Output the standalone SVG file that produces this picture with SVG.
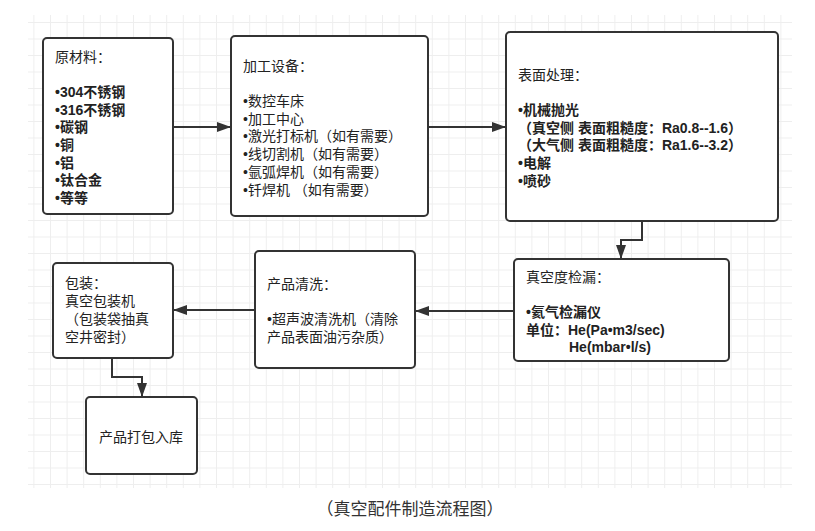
<svg xmlns="http://www.w3.org/2000/svg" width="815" height="531" viewBox="0 0 815 531">
<style>
.box{fill:#fff;stroke:#333;stroke-width:2}
.t{font-family:"Liberation Sans","Noto Sans CJK SC",sans-serif;font-size:14px;fill:#222}
.b{font-weight:600}
.cap{font-family:"Liberation Sans","Noto Sans CJK SC",sans-serif;font-size:17px;fill:#333}
.c{fill:none;stroke:#333;stroke-width:2}
</style>
<defs>
<pattern id="grid" x="0.2" y="5.5" width="16.6" height="16.5" patternUnits="userSpaceOnUse">
<path d="M0.5 0V16.5M0 0.5H16.6" fill="none" stroke="#eeeeee" stroke-width="1"/>
</pattern>
<marker id="ah" viewBox="0 0 14 10" refX="14" refY="5" markerWidth="14" markerHeight="10" markerUnits="userSpaceOnUse" orient="auto">
<path d="M0 0L14 5L0 10Z" fill="#333"/>
</marker>
</defs>
<rect width="815" height="531" fill="#fff"/>
<rect x="28" y="15" width="764" height="473" fill="url(#grid)"/>
<g id="connectors">
<path class="c" d="M173 127H231" marker-end="url(#ah)"/>
<path class="c" d="M428 127H506" marker-end="url(#ah)"/>
<path class="c" d="M642 221V240H621V259" marker-end="url(#ah)"/>
<path class="c" d="M514 311H415" marker-end="url(#ah)"/>
<path class="c" d="M255 310H173" marker-end="url(#ah)"/>
<path class="c" d="M112 358V377H142V397" marker-end="url(#ah)"/>
</g>
<g id="n1">
<rect class="box" x="43" y="38" width="130" height="176" rx="4"/>
<text class="t" x="55" y="62">原材料：</text>
<g class="t b">
<text x="55" y="97">•304不锈钢</text>
<text x="55" y="115">•316不锈钢</text>
<text x="55" y="132">•碳钢</text>
<text x="55" y="150">•铜</text>
<text x="55" y="168">•铝</text>
<text x="55" y="185">•钛合金</text>
<text x="55" y="203">•等等</text>
</g>
</g>
<g id="n2">
<rect class="box" x="231" y="36" width="197" height="180" rx="4"/>
<text class="t" x="243" y="71">加工设备：</text>
<text class="t" x="243" y="106">•数控车床</text>
<text class="t" x="243" y="124">•加工中心</text>
<text class="t" x="243" y="141">•激光打标机（如有需要）</text>
<text class="t" x="243" y="159">•线切割机（如有需要）</text>
<text class="t" x="243" y="177">•氩弧焊机（如有需要）</text>
<text class="t" x="243" y="195">•钎焊机 （如有需要）</text>
</g>
<g id="n3">
<rect class="box" x="506" y="32" width="272" height="189" rx="4"/>
<text class="t" x="518" y="80">表面处理：</text>
<g class="t b">
<text x="518" y="115">•机械抛光</text>
<text x="518" y="133">（真空侧 表面粗糙度：Ra0.8--1.6）</text>
<text x="518" y="150">（大气侧 表面粗糙度：Ra1.6--3.2）</text>
<text x="518" y="168">•电解</text>
<text x="518" y="186">•喷砂</text>
</g>
</g>
<g id="n4">
<rect class="box" x="514" y="259" width="215" height="102" rx="4"/>
<text class="t" x="526" y="282">真空度检漏：</text>
<g class="t b">
<text x="526" y="317">•氦气检漏仪</text>
<text x="526" y="335">单位：He(Pa•m3/sec)</text>
<text x="569" y="352">He(mbar•l/s)</text>
</g>
</g>
<g id="n5">
<rect class="box" x="255" y="251" width="160" height="117" rx="4"/>
<text class="t" x="267" y="289">产品清洗：</text>
<text class="t" x="267" y="324">•超声波清洗机（清除</text>
<text class="t" x="267" y="342">产品表面油污杂质）</text>
</g>
<g id="n6">
<rect class="box" x="53" y="263" width="120" height="95" rx="4"/>
<text class="t" x="65" y="288">包装：</text>
<text class="t" x="65" y="306">真空包装机</text>
<text class="t" x="65" y="324">（包装袋抽真</text>
<text class="t" x="65" y="342">空井密封）</text>
</g>
<g id="n7">
<rect class="box" x="86" y="397" width="111" height="77" rx="4"/>
<text class="t" x="99" y="442">产品打包入库</text>
</g>
<text class="cap" x="410" y="515" text-anchor="middle">（真空配件制造流程图）</text>
</svg>
